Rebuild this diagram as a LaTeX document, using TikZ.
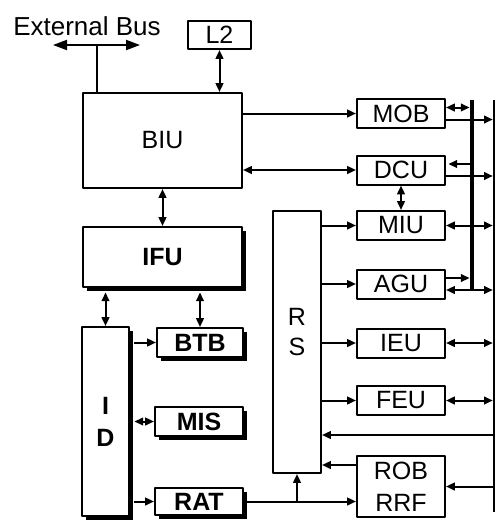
\documentclass[tikz,border=0pt]{standalone}
\usepackage{fontspec}
\setmainfont{Liberation Sans}
\usetikzlibrary{arrows.meta,calc,positioning,shadows}

\begin{document}
\begin{tikzpicture}[x=0.5pt,y=-0.5pt,>={Triangle[length=4.4pt,width=3.8pt]},
  line width=1pt,line join=round,
  unit/.style={draw,fill=white,inner sep=0pt,align=center,
   font=\fontsize{12.5}{16}\selectfont,minimum width=44pt,minimum height=14.5pt},
  frontend/.style={unit,font=\fontsize{12.5}{16}\selectfont\bfseries,
   drop shadow={shadow xshift=2.2pt,shadow yshift=-2.2pt,opacity=1,fill=black}},
  busline/.style={line width=2.4pt},
  bigtips/.style={{Triangle[length=7pt,width=5pt]}-{Triangle[length=7pt,width=5pt]}}]
 \useasboundingbox (0,0) rectangle (496,521);
 % bus interface and external bus
 \node[unit,minimum width=79.5pt,minimum height=47.5pt] (BIU) at (162.5,140.5) {BIU};
 \node[unit,minimum width=31.5pt,minimum height=14pt] (L2) at (219.5,35) {L2};
 \node[font=\fontsize{13}{15}\selectfont,inner sep=0pt] (extbus) at (87,26) {External Bus};
 \coordinate (ebl) at (53,45);
 \coordinate (ebr) at (140,45);
 \coordinate (ebmid) at (97,45);
 \draw[bigtips] (ebl) -- (ebr);
 \draw (ebmid) -- (ebmid |- BIU.north);
 \draw[<->] (L2.south) -- (L2.south |- BIU.north);
 % in-order front end
 \node[frontend,minimum width=79.5pt,minimum height=30pt] (IFU) at (162.5,257) {IFU};
 \node[frontend,minimum width=23.5pt,minimum height=94.5pt] (ID) at (105.5,421.5) {I\\D};
 \node[frontend,minimum width=43pt] (BTB) at (200,342.5) {BTB};
 \node[frontend] (MIS) at (199,421.5) {MIS};
 \node[frontend,minimum height=13.5pt] (RAT) at (199,501.5) {RAT};
 \draw[<->] (BIU.south) -- (IFU.north);
 \draw[<->,shorten <=2.2pt] (IFU.south -| ID.north) -- (ID.north);
 \draw[<->,shorten <=2.2pt] (IFU.south -| BTB.north) -- (BTB.north);
 \draw[->,shorten <=2.2pt] (ID.east |- BTB) -- (BTB.west);
 \draw[<->,shorten <=2.2pt] (ID.east |- MIS) -- (MIS.west);
 \draw[->,shorten <=2.2pt] (ID.east |- RAT) -- (RAT.west);
 % reservation station and execution units
 \node[unit,minimum width=24pt,minimum height=131pt,
  label={[font=\fontsize{12.5}{15}\selectfont,align=center,yshift=5pt]center:R\\S}] (RS) at (297,342) {};
 \foreach \u/\y in {MOB/113.5,DCU/170,MIU/225.5,AGU/284,IEU/343,FEU/400.5}
  \node[unit] (\u) at (401,\y) {\u};
 \node[unit,minimum height=30.5pt] (ROB) at (401,486.5) {ROB\\RRF};
 \coordinate (bustop) at (472,100);
 \coordinate (busbot) at (472,289);
 \coordinate (restop) at (494,100);
 \coordinate (resbot) at (494,512);
 \draw[busline] (bustop) -- (busbot);
 \draw[line width=1.2pt] (restop) -- (resbot);
 \foreach \u in {MOB,DCU,AGU}{
  \coordinate (\u-hi) at ([yshift=3pt]\u.east);
  \coordinate (\u-lo) at ([yshift=-3pt]\u.east);
 }
 \draw[->] (BIU.east |- MOB) -- (MOB.west);
 \draw[<->] (BIU.east |- DCU) -- (DCU.west);
 \draw[<->,shorten >=1.2pt] (MOB-hi) -- (MOB-hi -| bustop);
 \draw[->,shorten >=0.6pt] (MOB-lo) -- (MOB-lo -| restop);
 \draw[<-,shorten <=1.2pt] (DCU-hi) -- (DCU-hi -| bustop);
 \draw[->,shorten >=0.6pt] (DCU-lo) -- (DCU-lo -| restop);
 \draw[->,shorten >=1.2pt] (AGU-hi) -- (AGU-hi -| bustop);
 \draw[<->,shorten >=0.6pt] (AGU-lo) -- (AGU-lo -| restop);
 \foreach \u in {MIU,IEU,FEU}
  \draw[<->,shorten >=0.6pt] (\u.east) -- (\u.east -| restop);
 \foreach \u in {MIU,AGU,IEU,FEU}
  \draw[->] (RS.east |- \u) -- (\u.west);
 \draw[<->] (DCU.south) -- (MIU.north);
 % retirement
 \coordinate (fb) at (494,435);
 \coordinate (robhi) at ([yshift=10.75pt]ROB.west);
 \draw[->] (fb) -- (fb -| RS.east);
 \draw[->] (robhi) -- (robhi -| RS.east);
 \draw[<-] (ROB.east) -- (ROB.east -| restop);
 \draw[->] (RAT.east) -- (RAT.east -| ROB.west);
 \draw[->] (RAT.east -| RS.south) -- (RS.south);
\end{tikzpicture}
\end{document}
